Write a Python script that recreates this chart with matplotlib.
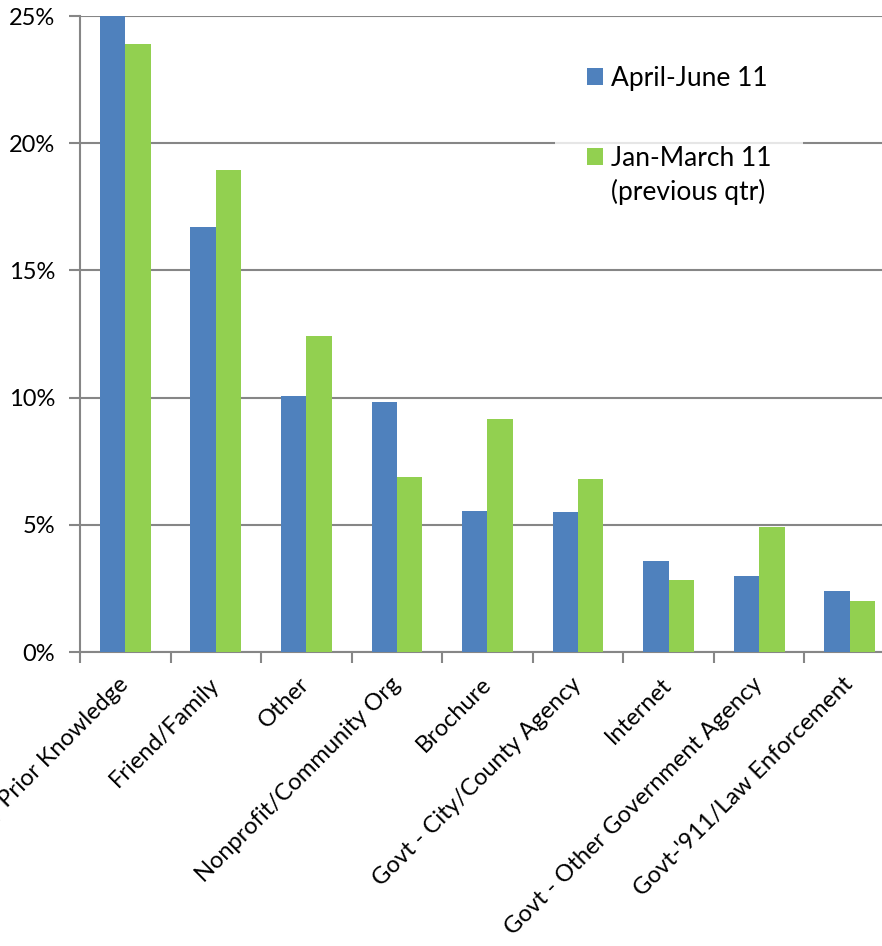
import matplotlib
matplotlib.use("Agg")
import matplotlib.pyplot as plt
import numpy as np
from matplotlib.patches import Patch

categories = ["Agency Prior Knowledge", "Friend/Family", "Other", "Nonprofit/Community Org",
              "Brochure", "Govt - City/County Agency", "Internet",
              "Govt - Other Government Agency", "Govt-'911/Law Enforcement"]
april_june = [27.0, 16.7, 10.06, 9.83, 5.54, 5.5, 3.58, 2.99, 2.40]
jan_march = [23.9, 18.95, 12.42, 6.88, 9.16, 6.8, 2.83, 4.91, 2.0]
series_labels = ["April-June 11", "Jan-March 11", "(previous qtr)"]
yticks = [0, 5, 10, 15, 20, 25]
ytick_labels = ["0%", "5%", "10%", "15%", "20%", "25%"]

BLUE = "#4F81BD"
GREEN = "#92D050"
GREY = "#868686"

plt.rcParams["font.family"] = ["Lato", "DejaVu Sans"]

fig = plt.figure(figsize=(8.82, 9.46), dpi=100)
ax = fig.add_axes([80/882, 1-652/946, 815/882, (652-16)/946])

x = np.arange(len(categories))
w = 0.28
ax.bar(x - w/2, april_june, width=w, color=BLUE, zorder=3)
ax.bar(x + w/2, jan_march, width=w, color=GREEN, zorder=3)

ax.set_xlim(-0.5, len(categories) - 0.5)
ax.set_ylim(0, 25)
ax.set_yticks(yticks)
ax.set_yticklabels(ytick_labels, fontsize=17)
ax.yaxis.grid(True, color=GREY, linewidth=1.5, zorder=0)
ax.set_axisbelow(True)

ax.set_xticks(np.arange(len(categories) + 1) - 0.5, minor=False)
ax.set_xticklabels([])
ax.set_xticks(x, minor=True)
ax.set_xticklabels(categories, minor=True, rotation=45, ha="right", va="center",
                   rotation_mode="anchor", fontsize=17)
ax.tick_params(axis="x", which="minor", length=0, pad=21)
ax.tick_params(axis="x", which="major", length=8, width=1.5, color=GREY, direction="out")
ax.tick_params(axis="y", length=8, width=1.5, color=GREY, direction="out", pad=10)

for s in ["top", "right"]:
    ax.spines[s].set_visible(False)
for s in ["left", "bottom"]:
    ax.spines[s].set_color(GREY)
    ax.spines[s].set_linewidth(1.5)

# Legend
h1 = Patch(facecolor=BLUE, edgecolor="none")
h2 = Patch(facecolor=GREEN, edgecolor="none")
h3 = Patch(facecolor="none", edgecolor="none")
common = dict(frameon=True, fancybox=False, fontsize=19, handlelength=0.62, handleheight=0.62,
              handletextpad=0.3, borderpad=1.2, labelspacing=0.3, borderaxespad=0)
leg1 = ax.legend([h1], [series_labels[0]], loc="upper left",
                 bbox_to_anchor=(555/882, 1-34/946), bbox_transform=fig.transFigure, **common)
leg1.get_frame().set_edgecolor("none")
ax.add_artist(leg1)
leg2 = ax.legend([h2, h3], series_labels[1:], loc="upper left",
                 bbox_to_anchor=(555/882, 1-114/946), bbox_transform=fig.transFigure, **common)
leg2.get_frame().set_edgecolor("none")
leg2.get_frame().set_facecolor("white")

fig.savefig("out.png", dpi=100)
